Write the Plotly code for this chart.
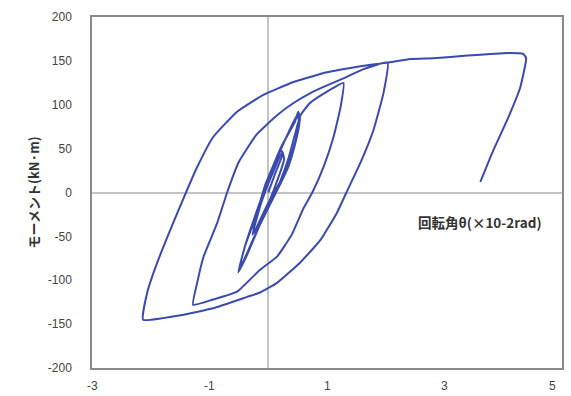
import plotly.graph_objects as go

# Rotation angle (x10^-2 rad) and moment (kN·m), traced in loading order
small_x = [0.0, 0.12, 0.25, 0.22, 0.08, -0.08, -0.25, -0.22, -0.06, 0.1, 0.27, 0.24, 0.05, -0.12, -0.27,
           -0.2, 0.0, 0.2, 0.34, 0.46, 0.54, 0.51, 0.45, 0.22, 0.03, -0.05, -0.22, -0.39, -0.51,
           -0.34, -0.17, 0.05, 0.2, 0.34, 0.46, 0.53, 0.49, 0.22, 0.03, -0.22, -0.4, -0.5]
small_y = [0, 22, 45, 48, 26, -2, -42, -46, -22, 4, 38, 46, 18, -12, -48,
           -40, -12, 12, 32, 58, 84, 92, 80, 52, 22, 9, -29, -60, -91,
           -68, -41, -11, 9, 29, 56, 80, 88, 50, 20, -26, -62, -89]

medium_x = [-0.34, -0.17, 0.05, 0.2, 0.34, 0.45, 0.55, 0.71, 1.0, 1.28,
            1.23, 1.11, 0.94, 0.75, 0.6, 0.4, 0.15, -0.14, -0.53, -0.94, -1.28]
medium_y = [-66, -40, -10, 12, 38, 65, 88, 102, 115, 125,
            97, 63, 29, 0, -18, -48, -73, -88, -113, -122, -128]

large_x = [-1.21, -1.1, -0.87, -0.7, -0.5, -0.2, 0.15, 0.43, 0.71, 1.0, 1.28, 1.6, 2.03,
           1.96, 1.79, 1.57, 1.33, 1.17, 0.89, 0.54, 0.15, -0.14, -0.36, -0.94, -1.5, -2.13]
large_y = [-103, -73, -35, 0, 35, 66, 88, 102, 113, 122, 130, 140, 148,
           113, 71, 34, 0, -23, -54, -80, -103, -114, -119, -132, -140, -145]

final_x = [-2.06, -1.89, -1.62, -1.4, -1.21, -0.94, -0.53, -0.09, 0.43, 1.0, 1.57, 2.03,
           2.42, 2.81, 3.39, 4.07, 4.34, 4.39, 4.29, 4.07, 3.83, 3.61]
final_y = [-114, -80, -35, 0, 29, 63, 92, 111, 126, 137, 144, 148,
           152, 153, 156, 159, 158, 153, 120, 83, 48, 12]

x_vals = small_x + medium_x + large_x + final_x
y_vals = small_y + medium_y + large_y + final_y

x_ticks = [-3, -1, 1, 3, 5]
y_ticks = [-200, -150, -100, -50, 0, 50, 100, 150, 200]

fig = go.Figure()
fig.add_trace(go.Scatter(
    x=x_vals, y=y_vals, mode="lines",
    line=dict(color="#3a4aae", width=2, shape="spline", smoothing=0.4),
    showlegend=False, hoverinfo="skip"))

axis_font = dict(family="Liberation Sans, Arial, sans-serif", size=12, color="#444")

fig.update_layout(
    width=571, height=396,
    margin=dict(l=92, r=9, t=17, b=28),
    paper_bgcolor="white", plot_bgcolor="white",
    xaxis=dict(range=[x_ticks[0], x_ticks[-1]], showticklabels=False,
               showgrid=False, zeroline=True, zerolinecolor="#c4c4c4", zerolinewidth=2,
               showline=True, linecolor="#8a8a8a", linewidth=1.5, mirror=True,
               ticks="", automargin=False),
    yaxis=dict(range=[-200, 200], tickvals=y_ticks, ticktext=[str(v) for v in y_ticks],
               showgrid=False, zeroline=True, zerolinecolor="#c4c4c4", zerolinewidth=2,
               showline=True, linecolor="#8a8a8a", linewidth=1.5, mirror=True,
               ticks="", tickfont=axis_font, ticklabelstandoff=16, automargin=False),
    annotations=[
        dict(text="<b>回転角θ(×10-2rad)</b>", x=3.6, y=-34, xref="x", yref="y",
             showarrow=False, font=dict(family="Noto Sans CJK JP, sans-serif", size=13.5, color="#333")),
        dict(text="<b>モーメント(kN·m)</b>", x=-0.148, y=0, xref="paper", yref="y",
             textangle=-90, showarrow=False,
             font=dict(family="Noto Sans CJK JP, sans-serif", size=13, color="#333")),
    ],
)

# x tick labels placed at their axis positions; the last one is kept just inside the right edge
for v in x_ticks:
    last = v == x_ticks[-1]
    fig.add_annotation(text=str(v), x=(v - x_ticks[0]) / (x_ticks[-1] - x_ticks[0]), y=0,
                       xref="paper", yref="paper", yanchor="top",
                       xanchor="right" if last else "center", xshift=-4 if last else 0,
                       yshift=-9, showarrow=False, font=axis_font)

# remove the page's default body margin so the 571x396 figure fills the window exactly
fig.write_html("out.html", config={"displayModeBar": False},
               post_script="document.body.style.margin='0px';document.body.style.overflow='hidden';")
